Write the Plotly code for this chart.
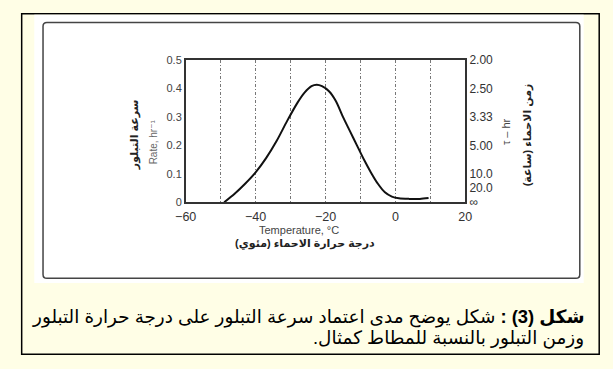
import plotly.graph_objects as go

# ---- data ----
temperature = [-49, -46, -43, -40, -37, -34, -31, -28, -26, -24, -22.5, -21, -19,
               -17, -15, -13, -11, -9, -7, -5, -3, -1, 1, 4, 7, 9.5]
rate = [0, 0.03, 0.065, 0.105, 0.155, 0.215, 0.285, 0.35, 0.385, 0.408, 0.413,
        0.408, 0.39, 0.355, 0.3, 0.25, 0.2, 0.15, 0.105, 0.065, 0.035, 0.02,
        0.014, 0.012, 0.012, 0.015]

x_ticks = [-60, -40, -20, 0, 20]
x_ticktext = ["\u221260", "\u221240", "\u221220", "0", "20"]
left_ticks = [0, 0.1, 0.2, 0.3, 0.4, 0.5]
left_ticktext = ["0", "0.1", "0.2", "0.3", "0.4", "0.5"]
right_ticks = [0.5, 0.4, 0.3, 0.2, 0.1, 0.05, 0]
right_ticktext = ["2.00", "2.50", "3.33", "5.00", "10.0", "20.0", "\u221e"]

W, H = 613, 369
def px(x): return x / W
def py(y): return 1 - y / H

RLM = "\u200f"
FONT = "Liberation Sans, DejaVu Sans, Arial, sans-serif"

fig = go.Figure()
fig.add_trace(go.Scatter(x=temperature, y=rate, mode="lines",
                         line=dict(color="#111", width=2, shape="spline", smoothing=0.8),
                         hoverinfo="skip", showlegend=False))
# trace on the right axis (kept invisible)
fig.add_trace(go.Scatter(x=[-60], y=[0], yaxis="y2", mode="markers",
                         marker=dict(opacity=0), hoverinfo="skip", showlegend=False))

x0, x1 = 180, 468
y0, y1 = 55, 203

fig.update_layout(
    width=W, height=H, margin=dict(l=0, r=0, t=0, b=0),
    paper_bgcolor="#FFFEE6", plot_bgcolor="rgba(0,0,0,0)",
    font=dict(family=FONT, color="#333"),
    xaxis=dict(domain=[px(x0), px(x1)], range=[-60, 20], tickvals=x_ticks,
               ticktext=x_ticktext, showgrid=True, gridcolor="#777", gridwidth=1,
               griddash="3px,2px,1px,2px",
               minor=dict(tickvals=[-50, -30, -10, 10], showgrid=True, gridcolor="#777",
                          griddash="3px,2px,1px,2px", gridwidth=1),
               showline=True, linecolor="#333", linewidth=1.5, mirror=True,
               zeroline=False, ticks="", ticklabelstandoff=2,
               tickfont=dict(size=12.5, color="#333")),
    yaxis=dict(domain=[py(y1), py(y0)], range=[0, 0.5], tickvals=left_ticks,
               ticktext=left_ticktext, showgrid=False, zeroline=False,
               showline=True, linecolor="#333", linewidth=1.5, ticks="",
               tickfont=dict(size=11, color="#444")),
    yaxis2=dict(overlaying="y", side="right", range=[0, 0.5], tickvals=right_ticks,
                ticktext=right_ticktext, showgrid=False, zeroline=False,
                showline=True, linecolor="#333", linewidth=1.5, ticks="",
                tickfont=dict(size=12, color="#333")),
)

shapes = [
    dict(type="rect", xref="paper", yref="paper", x0=px(11), x1=px(606), y0=py(361), y1=py(7),
         line=dict(color="#000", width=1.5), fillcolor="#FFFEE6", layer="below"),
    dict(type="rect", xref="paper", yref="paper", x0=px(24), x1=px(590), y0=py(287), y1=py(8),
         line=dict(width=0), fillcolor="white", layer="below"),
]
r = 4
path = (f"M {px(33+r)},{py(16)} L {px(586-r)},{py(16)} Q {px(586)},{py(16)} {px(586)},{py(16+r)} "
        f"L {px(586)},{py(282-r)} Q {px(586)},{py(282)} {px(586-r)},{py(282)} "
        f"L {px(33+r)},{py(282)} Q {px(33)},{py(282)} {px(33)},{py(282-r)} "
        f"L {px(33)},{py(16+r)} Q {px(33)},{py(16)} {px(33+r)},{py(16)} Z")
shapes.append(dict(type="path", xref="paper", yref="paper", path=path,
                   line=dict(color="#444", width=1.5), layer="below"))
fig.update_layout(shapes=shapes)

ann = []
def A(text, x, y, size, angle=0, anchor="center", color="#222", bold=False):
    if bold:
        text = "<b>" + text + "</b>"
    ann.append(dict(text=text, x=px(x), y=py(y), xref="paper", yref="paper",
                    showarrow=False, textangle=angle, xanchor=anchor, yanchor="middle",
                    font=dict(size=size, color=color, family=FONT)))

A("Temperature, \u00b0C", 297, 232, 11, color="#444")
A(RLM + "درجة حرارة الاحماء (مئوي)" + RLM, 303, 246, 11, bold=True)
A(RLM + "سرعة التبلور" + RLM, 128, 133, 11, angle=-90, bold=True)
A("Rate, hr\u207b\u00b9", 147, 140, 10, angle=-90, color="#666")
A("\u03c4 \u2013 hr", 510, 130, 11, angle=-90, color="#444")
A(RLM + "زمن الاحماء (ساعة)" + RLM, 533, 133, 11, angle=-90, bold=True)

A(RLM + "<b>شكل (3) :</b> شكل يوضح مدى اعتماد سرعة التبلور على درجة حرارة التبلور" + RLM,
  592, 322, 18.4, anchor="right", color="#000")
A(RLM + "وزمن التبلور بالنسبة للمطاط كمثال." + RLM, 592, 344, 18.4, anchor="right", color="#000")
fig.update_layout(annotations=ann)

fig.write_html("out.html")
